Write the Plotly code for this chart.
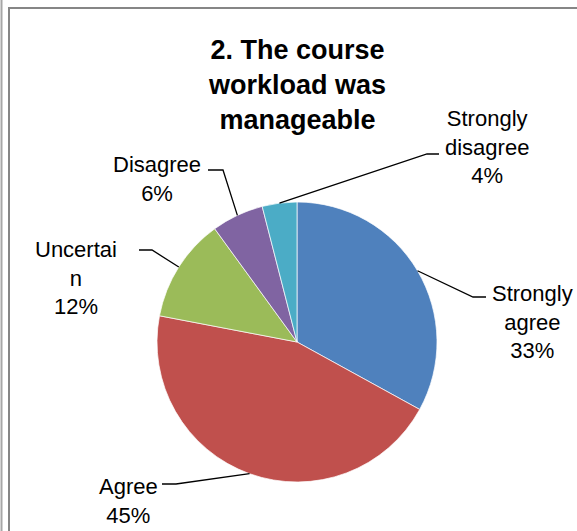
import math
import plotly.graph_objects as go

W, H = 577, 531

# ---- data ----
categories = ["Strongly agree", "Agree", "Uncertain", "Disagree", "Strongly disagree"]
percent = [33, 45, 12, 6, 4]
label_text = ["Strongly<br>agree<br>33%", "Agree<br>45%", "Uncertai<br>n<br>12%",
              "Disagree<br>6%", "Strongly<br>disagree<br>4%"]
title_text = "<b>2. The course<br>workload was<br>manageable</b>"

# ---- styling / layout ----
colors = ["#4F81BD", "#C0504D", "#9BBB59", "#8064A2", "#4BACC6"]
cx, cy, R = 297, 342, 140          # pie centre and radius in pixels
# label block centres (px) and leader elbow points (px): (elbow, end of horizontal tick)
label_pos = [(532, 322), (128, 501), (76, 278), (157, 179), (487, 147)]
elbows = [((473, 297), (486, 297)),
          ((176, 484), (162, 484)),
          ((152, 250), (139, 250)),
          ((223, 170), (208, 170)),
          ((427, 154), (439, 154))]

def px(x):
    return x / W

def py(y):
    return 1 - y / H

fig = go.Figure(go.Pie(
    labels=categories, values=percent, sort=False, direction="clockwise", rotation=0,
    marker=dict(colors=colors, line=dict(color="white", width=0.7)),
    textinfo="none", hoverinfo="label+percent", showlegend=False,
    domain=dict(x=[px(cx - R), px(cx + R)], y=[py(cy + R), py(cy - R)]),
))

font = "Liberation Sans"
annotations = [dict(text=title_text, x=px(297), y=py(85), xref="paper", yref="paper",
                    showarrow=False, xanchor="center", yanchor="middle",
                    font=dict(family=font, size=27, color="black"))]
shapes = []

total = sum(percent)
cum = 0
for i, v in enumerate(percent):
    mid = (cum + v / 2) / total * 2 * math.pi
    cum += v
    ex = cx + R * math.sin(mid)
    ey = cy - R * math.cos(mid)
    (bx, by), (tx, ty) = elbows[i]
    shapes.append(dict(type="path", xref="paper", yref="paper",
                       path=f"M {px(ex)} {py(ey)} L {px(bx)} {py(by)} L {px(tx)} {py(ty)}",
                       line=dict(color="black", width=1.3)))
    lx, ly = label_pos[i]
    annotations.append(dict(text=label_text[i], x=px(lx), y=py(ly), xref="paper", yref="paper",
                            showarrow=False, xanchor="center", yanchor="middle", align="center",
                            font=dict(family=font, size=22, color="black")))

# frame lines
shapes.append(dict(type="line", xref="paper", yref="paper", x0=px(1.5), x1=px(1.5), y0=0, y1=1,
                   line=dict(color="#a6a6a6", width=2)))
shapes.append(dict(type="path", xref="paper", yref="paper",
                   path=f"M {px(9)} 0 L {px(9)} {py(8)} L 1.01 {py(8)}",
                   line=dict(color="#868686", width=2)))

fig.update_layout(width=W, height=H, margin=dict(l=0, r=0, t=0, b=0),
                  paper_bgcolor="white", plot_bgcolor="white",
                  annotations=annotations, shapes=shapes)

fig.write_html("out.html", config={"displayModeBar": False},
               post_script="document.body.style.margin='0';document.body.style.overflow='hidden';")
